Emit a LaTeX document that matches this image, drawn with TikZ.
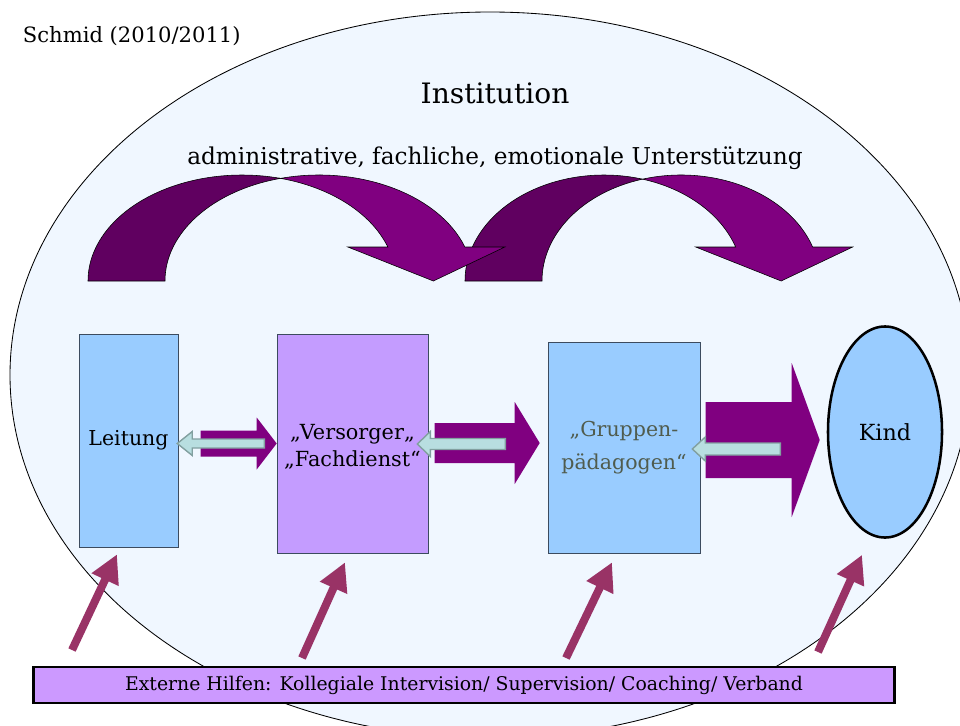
\documentclass[tikz,border=0pt]{standalone}
\usepackage{fontspec}
\setmainfont{DejaVu Serif}
\usetikzlibrary{arrows.meta, calc, positioning, shapes.geometric}
\definecolor{instBg}{RGB}{240,247,255}
\definecolor{arcBack}{RGB}{96,0,96}
\definecolor{arcFront}{RGB}{128,0,128}
\definecolor{boxBlue}{RGB}{153,204,255}
\definecolor{boxViolet}{RGB}{196,156,255}
\definecolor{helpViolet}{RGB}{204,153,255}
\definecolor{boxLine}{RGB}{60,75,95}
\definecolor{backFill}{RGB}{184,222,224}
\definecolor{backLine}{RGB}{130,160,160}
\definecolor{helpMaroon}{RGB}{153,51,102}
\definecolor{groupText}{RGB}{80,92,78}
\tikzset{
    roleBox/.style={rectangle, draw=boxLine, thin, fill=boxBlue, inner sep=2pt, align=center, font=\fontsize{14.6}{19}\selectfont},
    childBox/.style={ellipse, draw=black, line width=1.8pt, fill=boxBlue, inner sep=0pt, font=\fontsize{15.8}{19}\selectfont},
    helpBox/.style={rectangle, draw=black, line width=2pt, fill=helpViolet, inner sep=0pt, font=\fontsize{13.4}{16}\selectfont},
    arcBackPart/.style={fill=arcBack, draw=black, thin},
    arcFrontPart/.style={fill=arcFront, draw=black, thin},
    fwdArrow/.style={fill=arcFront, draw=none},
    backArrow/.style={fill=backFill, draw=backLine, line width=1pt},
    helpArrow/.style={draw=helpMaroon, line width=0.2cm, -{Triangle[length=0.7cm, width=0.7cm]}},
}
\newcommand{\blockArrow}[6][fwdArrow]{
    % #2 tip, #3 length, #4 half shaft, #5 half head, #6 head length (negative: points left)
    \draw[#1] ($(#2)+(-#3,-#4)$) -- ($(#2)+(-#6,-#4)$) -- ($(#2)+(-#6,-#5)$) -- (#2)
        -- ($(#2)+(-#6,#5)$) -- ($(#2)+(-#6,#4)$) -- ($(#2)+(-#3,#4)$) -- cycle;
}
\newcommand{\curvedArrow}[2]{
    % #1 centre x of the back arc, #2 its x radius
    \pgfmathsetmacro{\crossA}{acos(38.5/#2)}
    \pgfmathsetmacro{\headA}{asin(34/106)}
    \pgfmathsetmacro{\headX}{#2*cos(\headA)}
    \filldraw[arcBackPart] (#1-#2, 281)
        arc[start angle=180, end angle=360-\crossA, x radius=#2, y radius=106]
        arc[start angle=180+\crossA, end angle=180, x radius=#2, y radius=106] -- cycle;
    \filldraw[arcFrontPart] ({#1+77-#2*cos(\crossA)}, {281-106*sin(\crossA)})
        arc[start angle=180+\crossA, end angle=360-\headA, x radius=#2, y radius=106]
        -- ++(40,0) -- (#1+\headX+45.5, 281) -- (#1+\headX-40, 247) -- (#1+\headX, 247)
        arc[start angle=360-\headA, end angle=360-\crossA, x radius=#2, y radius=106] -- cycle;
}
\begin{document}
\begin{tikzpicture}[x=0.025cm, y=-0.025cm]
    \useasboundingbox (0,0) rectangle (960,725);
    \fill[white] (0,0) rectangle (960,725);
    \draw[fill=instBg, draw=black, line width=0.6pt] (490,375) ellipse[x radius=480, y radius=363];

    \node[anchor=west, font=\fontsize{15}{18}\selectfont] (author) at (18,36) {Schmid (2010/2011)};
    \node[font=\fontsize{20}{24}\selectfont] (inst) at (495,93) {Institution};
    \node[font=\fontsize{16.5}{20}\selectfont] (support) at (495,158) {administrative, fachliche, emotionale Unterstützung};

    \curvedArrow{604}{139}
    \curvedArrow{242}{154}

    \node[roleBox, minimum width=2.475cm, minimum height=5.325cm] (leitung) at (128.5,440.5) {Leitung};
    \node[roleBox, fill=boxViolet, minimum width=3.775cm, minimum height=5.475cm] (versorger) at (352.5,443.5) {};
    \node[font=\fontsize{14.8}{19}\selectfont, align=center] (versorgerText) at ($(versorger.center)+(0,3)$) {„Versorger„\\„Fachdienst“};
    \node[roleBox, text=groupText, font=\fontsize{14.6}{23.4}\selectfont, minimum width=3.8cm, minimum height=5.275cm] (gruppen) at (624,447.5) {„Gruppen-\\pädagogen“};
    \node[childBox, minimum width=2.85cm, minimum height=5.275cm] (kind) at (885,432) {Kind};
    \node[helpBox, minimum width=21.5cm, minimum height=0.9cm] (hilfen) at (464,685) {Externe Hilfen: Kollegiale Intervision/ Supervision/ Coaching/ Verband};

    \coordinate (fwd1) at (versorger.west);
    \coordinate (fwd2) at ($(gruppen.west)+(-8,-4.5)$);
    \coordinate (fwd3) at ($(kind.west)+(-7,8)$);
    \blockArrow{fwd1}{76}{13}{26}{20}
    \blockArrow{fwd2}{105}{20}{41}{25}
    \blockArrow{fwd3}{114}{38}{77}{28}

    \coordinate (back1) at ($(leitung.east)+(-1,3)$);
    \coordinate (back2) at ($(versorger.east)+(-11,0.5)$);
    \coordinate (back3) at ($(gruppen.east)+(-8,1.5)$);
    \blockArrow[backArrow]{back1}{-87}{4.5}{12}{-15}
    \blockArrow[backArrow]{back2}{-88}{5.5}{12.5}{-13}
    \blockArrow[backArrow]{back3}{-88}{6}{12}{-13}

    \foreach \n/\fx/\fy/\dx/\dy in {leitung/72/650/-11.5/7, versorger/302/658/-7.5/9, gruppen/566/658/-12/9, kind/818/652/-23/16}{
        \coordinate (foot-\n) at (\fx,\fy);
        \draw[helpArrow] (foot-\n) -- ($(\n.south)+(\dx,\dy)$);
    }
\end{tikzpicture}
\end{document}
